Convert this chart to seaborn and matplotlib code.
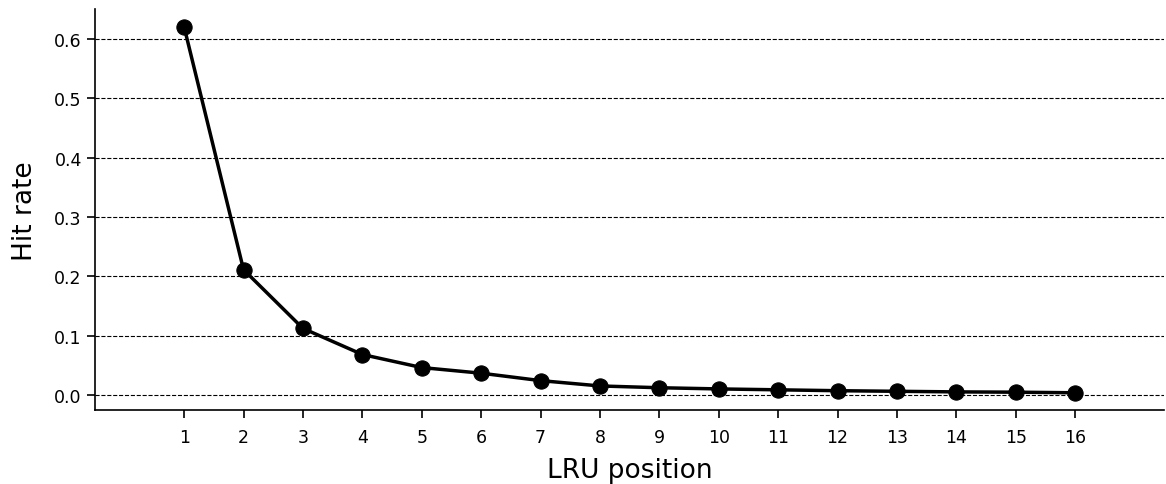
import matplotlib
matplotlib.use("Agg")
import matplotlib.pyplot as plt
import pandas as pd
import seaborn as sns

# LRU stack position vs. hit rate
positions = list(range(1, 17))
hit_rate = [0.620, 0.211, 0.112, 0.068, 0.046, 0.0365, 0.024, 0.015,
            0.012, 0.010, 0.0085, 0.007, 0.006, 0.005, 0.0045, 0.0035]

df = pd.DataFrame({"position": positions, "hit_rate": hit_rate})

sns.set_style("ticks")
plt.rcParams['font.family'] = ['DejaVu Sans']
plt.rcParams['text.color'] = 'black'
plt.rcParams['axes.labelcolor'] = 'black'
plt.rcParams['xtick.color'] = 'black'
plt.rcParams['ytick.color'] = 'black'

fig = plt.figure(figsize=(11.66, 4.85), dpi=100)
ax = fig.add_axes([0.0815, 0.152, 0.917, 0.827])

ax.yaxis.grid(True, linestyle='--', color='black', linewidth=0.8)
ax.set_axisbelow(True)

sns.lineplot(data=df, x="position", y="hit_rate", ax=ax, color='black',
             linewidth=2.5, marker='o', markersize=11, markeredgecolor='black')

ax.set_xticks(positions)
ax.set_xlim(-0.5, 17.5)
ax.set_ylim(-0.026, 0.65)
ax.set_yticks([0.0, 0.1, 0.2, 0.3, 0.4, 0.5, 0.6])
ax.tick_params(axis='both', labelsize=12.5, width=1.2, length=6)
ax.tick_params(axis='x', pad=7)
ax.set_xlabel("LRU position", fontsize=19, labelpad=8)
ax.set_ylabel("Hit rate", fontsize=19, labelpad=12)
for s in ['left', 'bottom']:
    ax.spines[s].set_linewidth(1.2)
    ax.spines[s].set_color('black')
sns.despine(ax=ax)

fig.savefig("out.png", dpi=100)
